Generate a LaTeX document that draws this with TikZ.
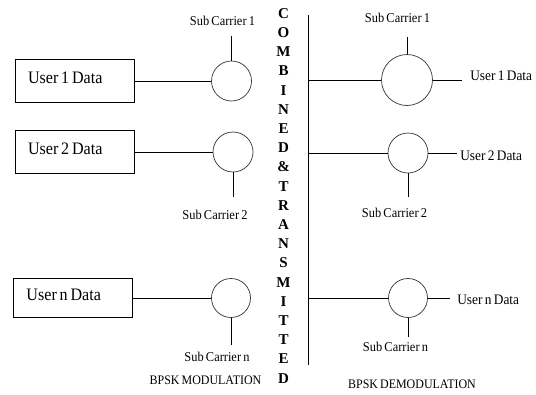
\documentclass[tikz,border=0pt]{standalone}
\usepackage{fontspec}
\setmainfont{Liberation Serif}
\newfontfamily\labelfont{Liberation Serif}[FakeStretch=0.92, WordSpace=0.7]
\usepackage{tikz}

\begin{document}
\begin{tikzpicture}[x=1pt, y=-1pt, line width=0.7pt,
        userbox/.style = {draw, minimum width=119pt, minimum height=43pt, text width=93pt,
                          inner xsep=13pt, align=flush left, text height=12pt, text depth=8pt,
                          font=\labelfont\fontsize{17.5}{20}\selectfont},
        carrier/.style = {draw=black!80, circle, inner sep=0pt},
        sublabel/.style = {font=\labelfont\fontsize{13.5}{16}\selectfont, inner sep=0pt},
        outlabel/.style = {font=\labelfont\fontsize{14.5}{17}\selectfont, inner sep=0pt, anchor=west}]
        \useasboundingbox (0,0) rectangle (536,394);

        % Modulation side
        \node[userbox] (u1) at (74.5,81) {User 1 Data};
        \node[userbox] (u2) at (74.5,152) {User 2 Data};
        \node[userbox, minimum height=39pt] (un) at (73,298) {User n Data};

        \node[carrier, minimum size=40pt] (c1) at (231.5,81) {};
        \node[carrier, minimum size=40pt] (c2) at (233,152) {};
        \node[carrier, minimum size=39pt] (cn) at (231,298) {};

        \draw (u1.east) -- (c1.west);
        \draw (u2.east) -- (c2.west);
        \draw (un.east) -- (cn.west);

        % Sub carrier inputs
        \coordinate (s1) at (231.5,36);
        \coordinate (s2) at (233,197);
        \coordinate (sn) at (231,345);
        \draw (c1.north) -- (s1);
        \draw (c2.south) -- (s2);
        \draw (cn.south) -- (sn);

        \node[sublabel] (sc1) at (222.5,21) {Sub Carrier 1};
        \node[sublabel] (sc2) at (215,215) {Sub Carrier 2};
        \node[sublabel] (scn) at (217,357) {Sub Carrier n};
        \node[sublabel, font=\labelfont\fontsize{13}{16}\selectfont] (mod) at (205.5,380) {BPSK MODULATION};

        % Combined signal
        \node[anchor=north, align=center, inner sep=0pt, font=\bfseries\fontsize{15}{19.2}\selectfont] (comb) at (283.5,8)
            {C\\O\\M\\B\\I\\N\\E\\D\\\&\\T\\R\\A\\N\\S\\M\\I\\T\\T\\E\\D};
        \coordinate (ttop) at (308.5,15);
        \coordinate (tbot) at (308.5,365);
        \draw (ttop) -- (tbot);

        % Demodulation side
        \node[carrier, minimum size=51pt] (r1) at (407,80) {};
        \node[carrier, minimum size=40pt] (r2) at (408,153) {};
        \node[carrier, minimum size=39pt] (rn) at (408,298) {};

        \draw (r1.west) -- (r1.west -| ttop);
        \draw (r2.west) -- (r2.west -| ttop);
        \draw (rn.west) -- (rn.west -| ttop);

        \coordinate (t1) at (407,37);
        \coordinate (t2) at (408,197);
        \coordinate (tn) at (408,337);
        \draw (r1.north) -- (t1);
        \draw (r2.south) -- (t2);
        \draw (rn.south) -- (tn);

        \node[sublabel] (dc1) at (397.5,18) {Sub Carrier 1};
        \node[sublabel] (dc2) at (394.5,213) {Sub Carrier 2};
        \node[sublabel] (dcn) at (395.5,347) {Sub Carrier n};
        \node[sublabel, font=\labelfont\fontsize{13}{16}\selectfont] (demod) at (412,384) {BPSK DEMODULATION};

        % Recovered data
        \node[outlabel] (o1) at (470,76) {User 1 Data};
        \node[outlabel] (o2) at (460,156) {User 2 Data};
        \node[outlabel] (on) at (457,300) {User n Data};
        \coordinate (e1) at (462,80);
        \coordinate (e2) at (457,153);
        \coordinate (en) at (450,298);
        \draw (r1.east) -- (e1);
        \draw (r2.east) -- (e2);
        \draw (rn.east) -- (en);
\end{tikzpicture}
\end{document}
